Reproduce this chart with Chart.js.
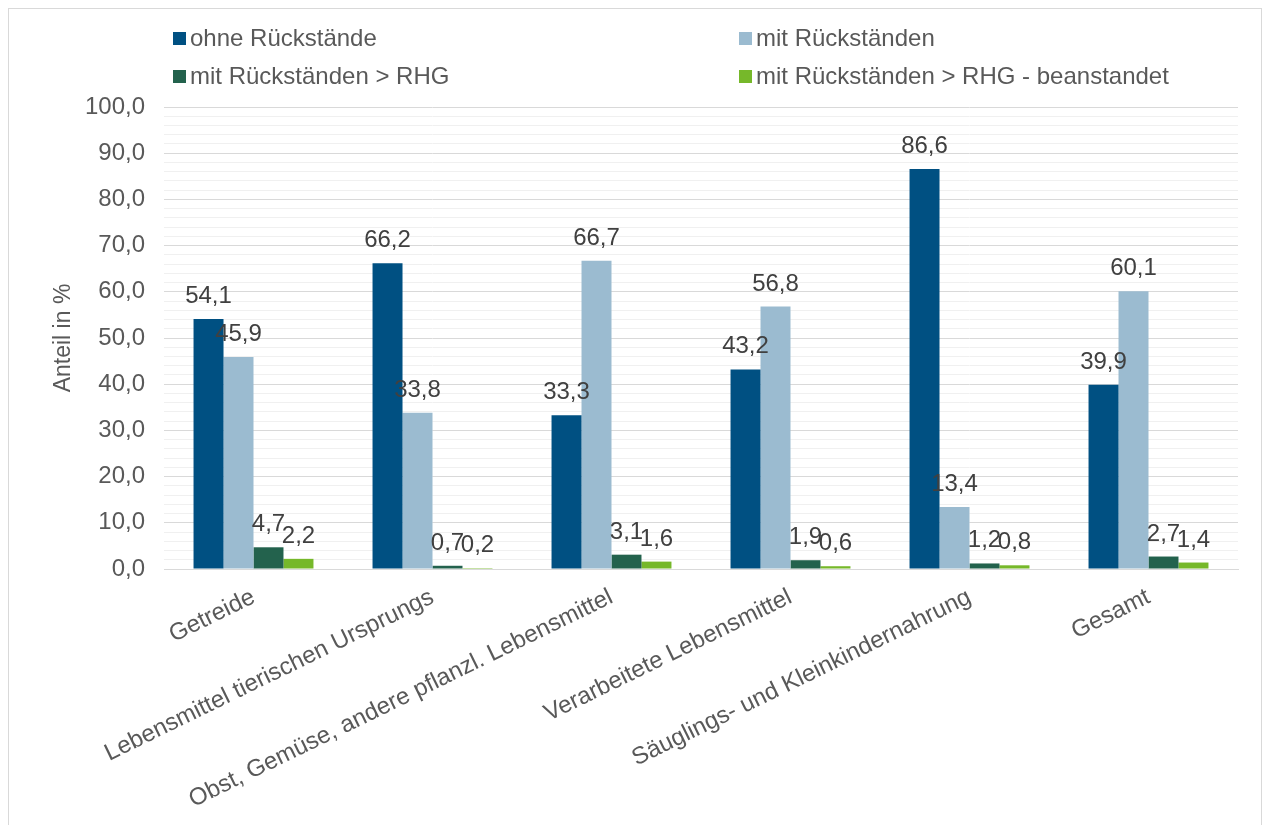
<!DOCTYPE html>
<html>
<head>
<meta charset="utf-8">
<script src="https://cdn.jsdelivr.net/npm/chart.js@4"></script>
<style>
  html, body { margin: 0; padding: 0; background: #fff; }
  #wrap { width: 1268px; height: 825px; position: relative; }
</style>
</head>
<body>
<div id="wrap"><canvas id="bar-chart" width="1268" height="825"></canvas></div>
<script>
// categories and series
const categories = [
  "Getreide",
  "Lebensmittel tierischen Ursprungs",
  "Obst, Gemüse, andere pflanzl. Lebensmittel",
  "Verarbeitete Lebensmittel",
  "Säuglings- und Kleinkindernahrung",
  "Gesamt",
];
const ohneRueckstaende = [54.1, 66.2, 33.3, 43.2, 86.6, 39.9];
const mitRueckstaenden = [45.9, 33.8, 66.7, 56.8, 13.4, 60.1];
const mitRHG = [4.7, 0.7, 3.1, 1.9, 1.2, 2.7];
const mitRHGbeanstandet = [2.2, 0.2, 1.6, 0.6, 0.8, 1.4];
const seriesNames = [
  "ohne Rückstände",
  "mit Rückständen",
  "mit Rückständen > RHG",
  "mit Rückständen > RHG - beanstandet",
];
const seriesColors = ["#005082", "#9bbbd0", "#23624d", "#76b82a"];

const FONT = "'Liberation Sans', Arial, sans-serif";
const fmt = (v) => v.toFixed(1).replace(".", ",");

// value labels above the bars
const valueLabels = {
  id: "valueLabels",
  afterDatasetsDraw(chart) {
    const ctx = chart.ctx;
    ctx.save();
    ctx.font = "24px " + FONT;
    ctx.fillStyle = "#404040";
    ctx.textAlign = "center";
    ctx.textBaseline = "alphabetic";
    chart.data.datasets.forEach((ds, i) => {
      chart.getDatasetMeta(i).data.forEach((bar, j) => {
        ctx.fillText(fmt(ds.data[j]), bar.x, bar.y - 16);
      });
    });
    ctx.restore();
  },
};

// two-column legend and outer frame, like the office chart
const frameAndLegend = {
  id: "frameAndLegend",
  beforeDraw(chart) {
    const ctx = chart.ctx;
    ctx.save();
    ctx.strokeStyle = "#d9d9d9";
    ctx.lineWidth = 1;
    ctx.strokeRect(8.5, 8.5, 1253, 900);
    ctx.restore();
  },
  afterDraw(chart) {
    const ctx = chart.ctx;
    const cols = [173, 739];
    const rows = [38.5, 76.5];
    ctx.save();
    ctx.font = "24px " + FONT;
    ctx.textBaseline = "middle";
    chart.data.datasets.forEach((ds, i) => {
      const x = cols[i % 2];
      const y = rows[Math.floor(i / 2)];
      ctx.fillStyle = ds.backgroundColor;
      ctx.fillRect(x, y - 6.5, 13, 13);
      ctx.fillStyle = "#595959";
      ctx.fillText(ds.label, x + 17, y + 1);
    });
    ctx.restore();
  },
};

const allSeries = [ohneRueckstaende, mitRueckstaenden, mitRHG, mitRHGbeanstandet];

new Chart(document.getElementById("bar-chart"), {
  type: "bar",
  data: {
    labels: categories,
    datasets: allSeries.map((d, i) => ({
      label: seriesNames[i],
      data: d,
      backgroundColor: seriesColors[i],
      barPercentage: 1,
      categoryPercentage: 0.67,
    })),
  },
  options: {
    responsive: false,
    animation: false,
    layout: { padding: { top: 107, left: 50, right: 30, bottom: 0 } },
    plugins: {
      legend: { display: false },
      tooltip: { enabled: false },
    },
    scales: {
      x: {
        grid: { display: false, drawTicks: false },
        border: { display: true, color: "#d9d9d9", width: 1 },
        ticks: {
          color: "#595959",
          font: { family: FONT, size: 24 },
          minRotation: 26,
          maxRotation: 26,
          padding: 14,
          autoSkip: false,
        },
        afterFit: (s) => { s.height = 256; },
      },
      y: {
        min: 0,
        max: 100,
        border: { display: false },
        grid: {
          drawTicks: false,
          color: (c) => (c.tick && c.tick.value % 10 === 0 ? "#d9d9d9" : "#f0f0f0"),
        },
        ticks: {
          stepSize: 2,
          maxTicksLimit: 60,
          autoSkip: false,
          padding: 19,
          color: "#595959",
          font: { family: FONT, size: 24 },
          callback: (v) => (v % 10 === 0 ? fmt(v) : ""),
        },
        title: {
          display: true,
          text: "Anteil in %",
          color: "#595959",
          font: { family: FONT, size: 23 },
          padding: { top: 0, bottom: 0 },
        },
        afterFit: (s) => { s.width = 114; },
      },
    },
  },
  plugins: [valueLabels, frameAndLegend],
});
</script>
</body>
</html>
